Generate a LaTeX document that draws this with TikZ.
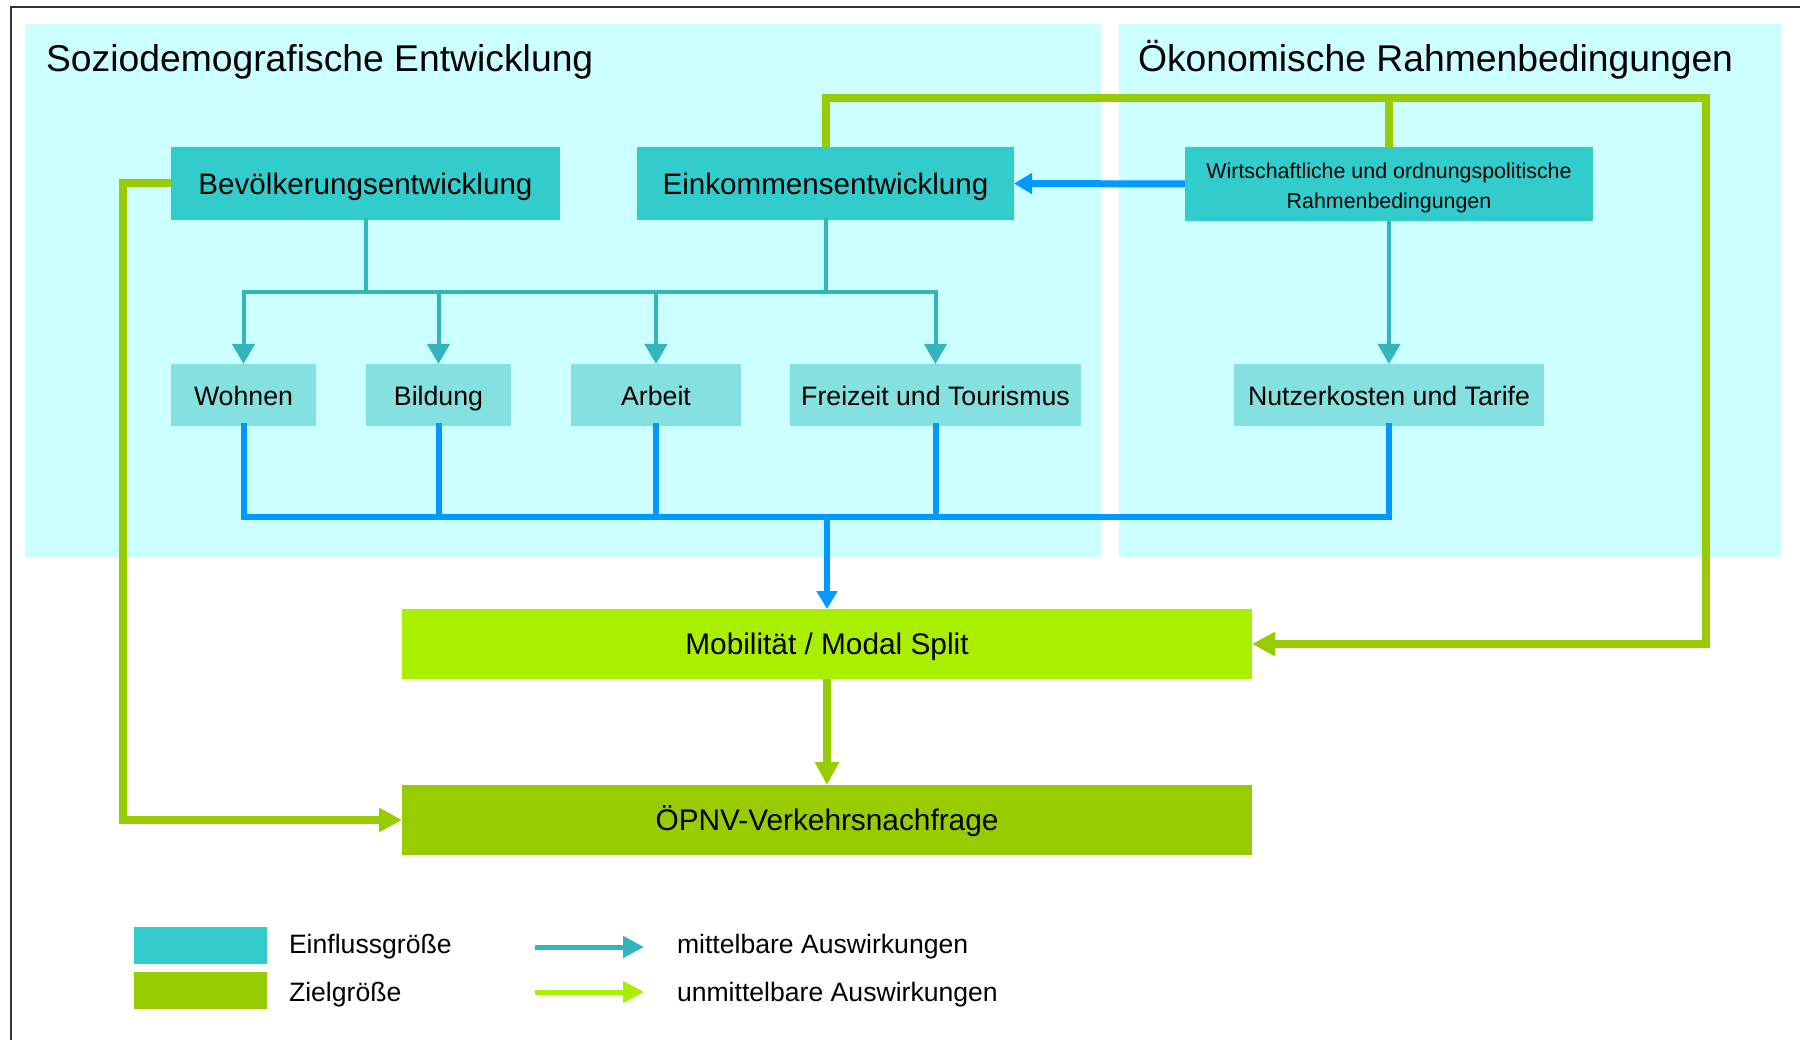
\documentclass[tikz,border=0pt]{standalone}
\usepackage{fontspec}
\setmainfont{Liberation Sans}
\usetikzlibrary{arrows.meta}
\definecolor{panelbg}{HTML}{CCFFFF}
\definecolor{tealbox}{HTML}{33CCCC}
\definecolor{teallight}{HTML}{85E0E0}
\definecolor{tealline}{HTML}{33B5BB}
\definecolor{blueline}{HTML}{0099FF}
\definecolor{greenc}{HTML}{99CC00}
\definecolor{limec}{HTML}{AAEE00}
\begin{document}
\begin{tikzpicture}[x=1pt,y=-1pt,
  box/.style={draw=none,inner sep=0pt,outer sep=0pt,anchor=center,align=center,text=black,text depth=0pt},
  bigbox/.style={box,fill=tealbox,font=\fontsize{29.6}{35}\selectfont,minimum height=73pt,text height=21.3pt},
  smallbox/.style={box,fill=teallight,font=\fontsize{26.7}{31}\selectfont,minimum height=62pt,text height=22pt},
  goalbox/.style={box,font=\fontsize{29.8}{35}\selectfont,minimum height=70pt,minimum width=850pt,text height=21.3pt},
  lbl/.style={anchor=base west,inner sep=0pt,outer sep=0pt,text=black},
  tl/.style={draw=tealline,line width=4pt,line cap=rect},
  bl/.style={draw=blueline,line width=6pt,line cap=rect},
  gl/.style={draw=greenc,line width=8pt,line join=miter},
  tealtip/.style={-{Triangle[width=22pt,length=20pt]},line cap=butt},
  bluetip/.style={-{Triangle[width=20pt,length=18pt]},line cap=butt},
  greentip/.style={-{Triangle[width=23pt,length=23pt]}},
]
\useasboundingbox (0,0) rectangle (1800,1040);
\fill[white] (0,0) rectangle (1800,1040);
% frame
\draw[line width=2pt,black!80] (11,1045) -- (11,7) -- (1805,7);
% panels
\fill[panelbg] (25,24) rectangle (1101,557);
\fill[panelbg] (1119,24) rectangle (1782,557);
\node[lbl,font=\fontsize{37.3}{44}\selectfont] (t1) at (46,71.5) {Soziodemografische Entwicklung};
\node[lbl,font=\fontsize{37.3}{44}\selectfont] (t2) at (1138,71.5) {Ökonomische Rahmenbedingungen};
% boxes
\node[bigbox,minimum width=389pt] (bev) at (365.5,183.5) {Bevölkerungsentwicklung};
\node[bigbox,minimum width=377pt] (eink) at (825.5,183.5) {Einkommensentwicklung};
\node[bigbox,minimum width=408pt,minimum height=74pt,
  label={[font=\fontsize{21.4}{30}\selectfont,align=center,inner sep=0pt,yshift=-4pt]center:Wirtschaftliche und ordnungspolitische\\Rahmenbedingungen}] (wirt) at (1389,184) {};
\node[smallbox,minimum width=145pt] (wohnen) at (243.5,395) {Wohnen};
\node[smallbox,minimum width=145pt] (bildung) at (438.5,395) {Bildung};
\node[smallbox,minimum width=170pt] (arbeit) at (656,395) {Arbeit};
\node[smallbox,minimum width=291pt] (freizeit) at (935.5,395) {Freizeit und Tourismus};
\node[smallbox,minimum width=310pt] (nutzer) at (1389,395) {Nutzerkosten und Tarife};
\node[goalbox,fill=limec] (mob) at (827,644) {Mobilität / Modal Split};
\node[goalbox,fill=greenc] (oepnv) at (827,820) {ÖPNV-Verkehrsnachfrage};
% helper coordinates
\coordinate (tbar) at (0,292);
\coordinate (bbar) at (0,517);
\coordinate (gtop) at (0,98);
\coordinate (gleft) at (123,0);
\coordinate (gright) at (1706,0);
% teal connectors
\draw[tl] (bev.south) -- (bev.south |- tbar);
\draw[tl] (eink.south) -- (eink.south |- tbar);
\draw[tl] (wohnen.north |- tbar) -- (freizeit.north |- tbar);
\foreach \n in {wohnen,bildung,arbeit,freizeit}
  \draw[tl,tealtip] (\n.north |- tbar) -- (\n.north);
\draw[tl,tealtip] (wirt.south) -- (nutzer.north);
% blue connectors
\foreach \n in {wohnen,bildung,arbeit,freizeit,nutzer}
  \draw[bl] (\n.south) -- (\n.south |- bbar);
\draw[bl] (wohnen.south |- bbar) -- (nutzer.south |- bbar);
\draw[bl,bluetip] (mob.north |- bbar) -- (mob.north);
\draw[bl,line width=7pt,bluetip] (wirt.west) -- (eink.east);
% green connectors
\draw[gl,greentip] (bev.west) -- (bev.west -| gleft) -- (oepnv.west -| gleft) -- (oepnv.west);
\draw[gl,greentip] (eink.north) -- (eink.north |- gtop) -- (gright |- gtop) -- (gright |- mob.east) -- (mob.east);
\draw[gl] (wirt.north) -- (wirt.north |- gtop);
\draw[gl,greentip] (mob.south) -- (oepnv.north);
% legend
\node[box,fill=tealbox,minimum width=133pt,minimum height=37pt] (lg1) at (200.5,945.5) {};
\node[box,fill=greenc,minimum width=133pt,minimum height=37pt] (lg2) at (200.5,990.5) {};
\node[lbl,font=\fontsize{26.6}{31}\selectfont] (lt1) at (289,953) {Einflussgröße};
\node[lbl,font=\fontsize{26.6}{31}\selectfont] (lt2) at (289,1001) {Zielgröße};
\node[lbl,font=\fontsize{26.6}{31}\selectfont] (lt3) at (677,953) {mittelbare Auswirkungen};
\node[lbl,font=\fontsize{26.6}{31}\selectfont] (lt4) at (677,1001) {unmittelbare Auswirkungen};
\coordinate (la1s) at (535,947);
\coordinate (la1e) at (644,947);
\coordinate (la2s) at (535,992);
\coordinate (la2e) at (644,992);
\draw[draw=tealline,line width=5pt,-{Triangle[width=21pt,length=21pt]}] (la1s) -- (la1e);
\draw[draw=limec,line width=5pt,-{Triangle[width=21pt,length=21pt]}] (la2s) -- (la2e);
\end{tikzpicture}
\end{document}
